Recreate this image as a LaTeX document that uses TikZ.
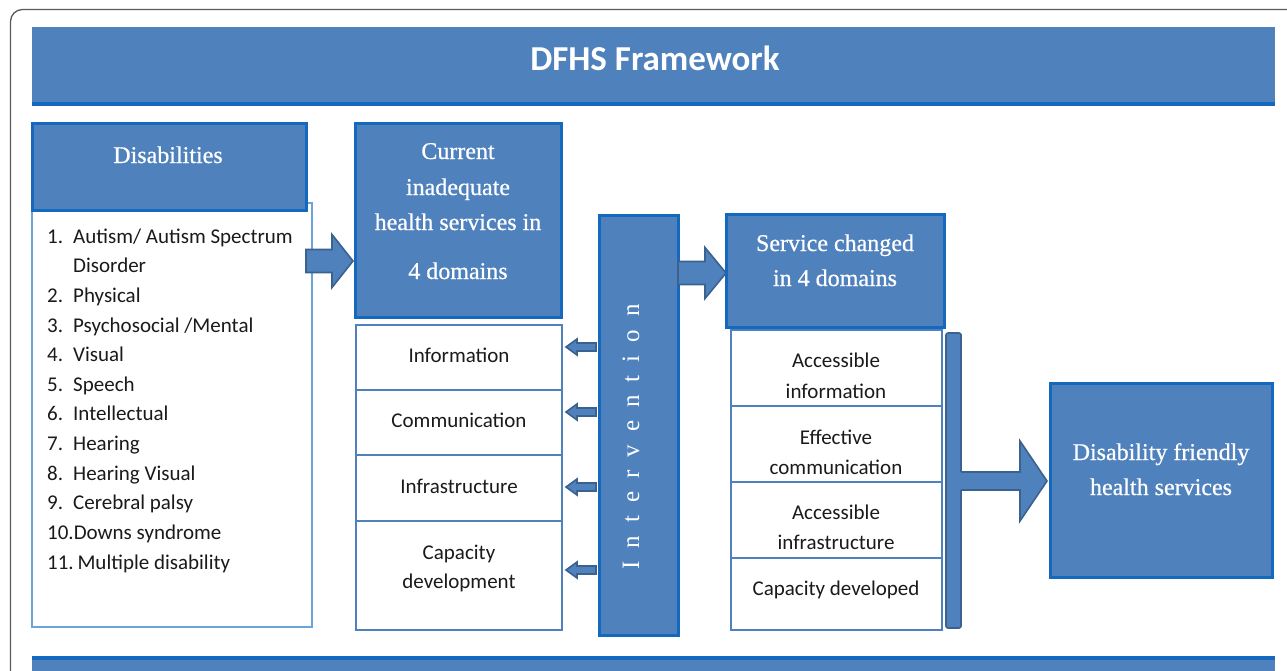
\documentclass[tikz,border=0pt]{standalone}
\usepackage{fontspec}
\setmainfont{Liberation Serif}
\newfontfamily\calib{Carlito}
\newfontfamily\hserif[FakeBold=0.6]{Liberation Serif}
\usetikzlibrary{calc}
\definecolor{bfill}{HTML}{4F81BD}
\definecolor{bedge}{HTML}{1469BF}
\definecolor{aedge}{HTML}{3A6190}
\definecolor{ledge}{HTML}{6AA5DA}
\definecolor{gborder}{HTML}{5A5A5A}
\definecolor{txt}{HTML}{1A1A1A}
\newcommand\fatarrow[5]{%
  \coordinate (fa-h) at ($(#2)!#5pt!(#1)$);
  \draw[barrow] ($(#1)+(0,#3)$) -- ($(fa-h)+(0,#3)$) -- ($(fa-h)+(0,#4)$) -- (#2)
    -- ($(fa-h)+(0,-#4)$) -- ($(fa-h)+(0,-#3)$) -- ($(#1)+(0,-#3)$) -- cycle;}
\begin{document}
\begin{tikzpicture}[x=1pt,y=-1pt,
  blk/.style 2 args={minimum width=#1, minimum height=#2, inner sep=0pt, outer sep=0pt, anchor=center},
  headbox/.style={draw=bedge, line width=3pt, fill=bfill},
  whitebox/.style={draw=bfill, line width=1.8pt, fill=white},
  listbox/.style={draw=ledge, line width=1.3pt, fill=white},
  barrow/.style={draw=aedge, line width=1.6pt, fill=bfill, line join=miter},
  wt/.style={text=white, font=\hserif\fontsize{24}{28}\selectfont, anchor=base, inner sep=0pt},
  bt/.style={text=txt, font=\calib\fontsize{21}{25}\selectfont, anchor=base, inner sep=0pt},
  lt/.style={bt, anchor=base west}]
\useasboundingbox (0,0) rectangle (1287,670);
\clip (0,0) rectangle (1287,670);
% outer frame
\draw[gborder, line width=1.3pt, rounded corners=12pt] (10.5,9.5) rectangle (1330,720);
% title
\node[blk={1243pt}{75pt}, fill=bfill] (title) at (653.5,64.5) {};
\draw[bedge, line width=4pt] (title.south west) ++(0,2) -- ++(1243,0);
\node[text=white, font=\calib\bfseries\fontsize{35}{40}\selectfont, anchor=base, inner sep=0pt] (titletxt) at (655,70) {DFHS Framework};
% bottom bar
\fill[bfill] (32,658) rectangle (1275,675);
\draw[bedge, line width=4pt] (32,658) -- (1275,658);
% disabilities
\node[blk={280pt}{424pt}, listbox] (dislist) at (172,415) {};
\node[blk={274pt}{87pt}, headbox] (dishead) at (169,166.5) {};
\node[wt] (dishtxt) at (168,163) {Disabilities};
\node[lt] (n1) at (47,243) {1.};  \node[lt] (t1) at (73,243) {Autism/ Autism Spectrum};
\node[lt] (t1b) at (73,272.7) {Disorder};
\node[lt] (n2) at (47,302.3) {2.}; \node[lt] (t2) at (73,302.3) {Physical};
\node[lt] (n3) at (47,332) {3.};  \node[lt] (t3) at (73,332) {Psychosocial /Mental};
\node[lt] (n4) at (47,361.6) {4.}; \node[lt] (t4) at (73,361.6) {Visual};
\node[lt] (n5) at (47,391.3) {5.}; \node[lt] (t5) at (73,391.3) {Speech};
\node[lt] (n6) at (47,420.9) {6.}; \node[lt] (t6) at (73,420.9) {Intellectual};
\node[lt] (n7) at (47,450.6) {7.}; \node[lt] (t7) at (73,450.6) {Hearing};
\node[lt] (n8) at (47,480.2) {8.}; \node[lt] (t8) at (73,480.2) {Hearing Visual};
\node[lt] (n9) at (47,509.9) {9.}; \node[lt] (t9) at (73,509.9) {Cerebral palsy};
\node[lt] (t10) at (47,539.5) {10.Downs syndrome};
\node[lt] (t11) at (47,569.2) {11.\kern-1pt\ Multiple disability};
% current services
\node[blk={206pt}{194pt}, headbox] (cur) at (458,220) {};
\node[wt] (cur1) at (458,159) {Current};
\node[wt] (cur2) at (458,195) {inadequate};
\node[wt] (cur3) at (458,230) {health services in};
\node[wt] (cur4) at (458,279) {4 domains};
\node[blk={206pt}{65pt}, whitebox] (d1) at (459,357.5) {};
\node[blk={206pt}{65pt}, whitebox] (d2) at (459,422.5) {};
\node[blk={206pt}{66pt}, whitebox] (d3) at (459,488) {};
\node[blk={206pt}{109pt}, whitebox] (d4) at (459,575.5) {};
\node[bt] (d1t) at (459,362) {Information};
\node[bt] (d2t) at (459,427) {Communication};
\node[bt] (d3t) at (459,493) {Infrastructure};
\node[bt] (d4t) at (459,559) {Capacity};
\node[bt] (d4u) at (459,588) {development};
% intervention
\node[blk={79pt}{420pt}, headbox] (interv) at (638.5,425) {};
\node[text=white, font=\fontsize{25}{28}\selectfont\addfontfeature{LetterSpace=52}, anchor=base, inner sep=0pt, rotate=90] (intervtxt) at (639,437) {Intervention};
% service changed
\node[blk={218pt}{113pt}, headbox] (svc) at (835,270.5) {};
\node[wt] (svc1) at (835,251) {Service changed};
\node[wt] (svc2) at (835,286) {in 4 domains};
\node[blk={211pt}{76pt}, whitebox] (s1) at (836.5,368) {};
\node[blk={211pt}{76pt}, whitebox] (s2) at (836.5,444) {};
\node[blk={211pt}{76pt}, whitebox] (s3) at (836.5,520) {};
\node[blk={211pt}{72pt}, whitebox] (s4) at (836.5,594) {};
\node[bt] (s1t) at (836,367) {Accessible};
\node[bt] (s1u) at (836,398) {information};
\node[bt] (s2t) at (836,444) {Effective};
\node[bt] (s2u) at (836,474) {communication};
\node[bt] (s3t) at (836,519) {Accessible};
\node[bt] (s3u) at (836,549) {infrastructure};
\node[bt] (s4t) at (836,595) {Capacity developed};
% result
\node[blk={222pt}{194pt}, headbox] (dfhs) at (1161,480) {};
\node[wt] (dfhs1) at (1161,460) {Disability friendly};
\node[wt] (dfhs2) at (1161,495) {health services};
% vertical bar and arrows
\node[blk={15pt}{295pt}, draw=aedge, line width=1.6pt, fill=bfill, rounded corners=2pt] (bar) at (953.5,480.5) {};
\coordinate (a3s) at (bar.east |- 0,481);
\coordinate (a3t) at ($(dfhs.west |- 0,481)+(-3,0)$);
\coordinate (a3h) at ($(a3t)+(-27,0)$);
\fill[bfill] ($(a3s)+(-4,9)$) -- ($(a3h)+(0,9)$) -- ($(a3h)+(0,40)$) -- (a3t) -- ($(a3h)+(0,-40)$) -- ($(a3h)+(0,-9)$) -- ($(a3s)+(-4,-9)$) -- cycle;
\draw[aedge, line width=1.6pt, line join=miter] ($(a3s)+(0,9)$) -- ($(a3h)+(0,9)$) -- ($(a3h)+(0,40)$) -- (a3t) -- ($(a3h)+(0,-40)$) -- ($(a3h)+(0,-9)$) -- ($(a3s)+(0,-9)$);
\coordinate (a1s) at (dishead.east |- 0,261);
\coordinate (a1t) at ($(cur.west |- 0,261)+(-2,0)$);
\fatarrow{a1s}{a1t}{11.5}{26.5}{21}
\coordinate (a2s) at (interv.east |- 0,273);
\coordinate (a2t) at (svc.west |- 0,273);
\fatarrow{a2s}{a2t}{11.5}{25.5}{21}
\foreach \yy/\bx in {347/d1,412/d2,487/d3,570/d4}{
  \coordinate (ls) at ($(interv.west |- 0,\yy)+(-3,0)$);
  \coordinate (lt) at ($(\bx.east |- 0,\yy)+(4,0)$);
  \fatarrow{ls}{lt}{4}{8}{11}
}
\end{tikzpicture}
\end{document}
